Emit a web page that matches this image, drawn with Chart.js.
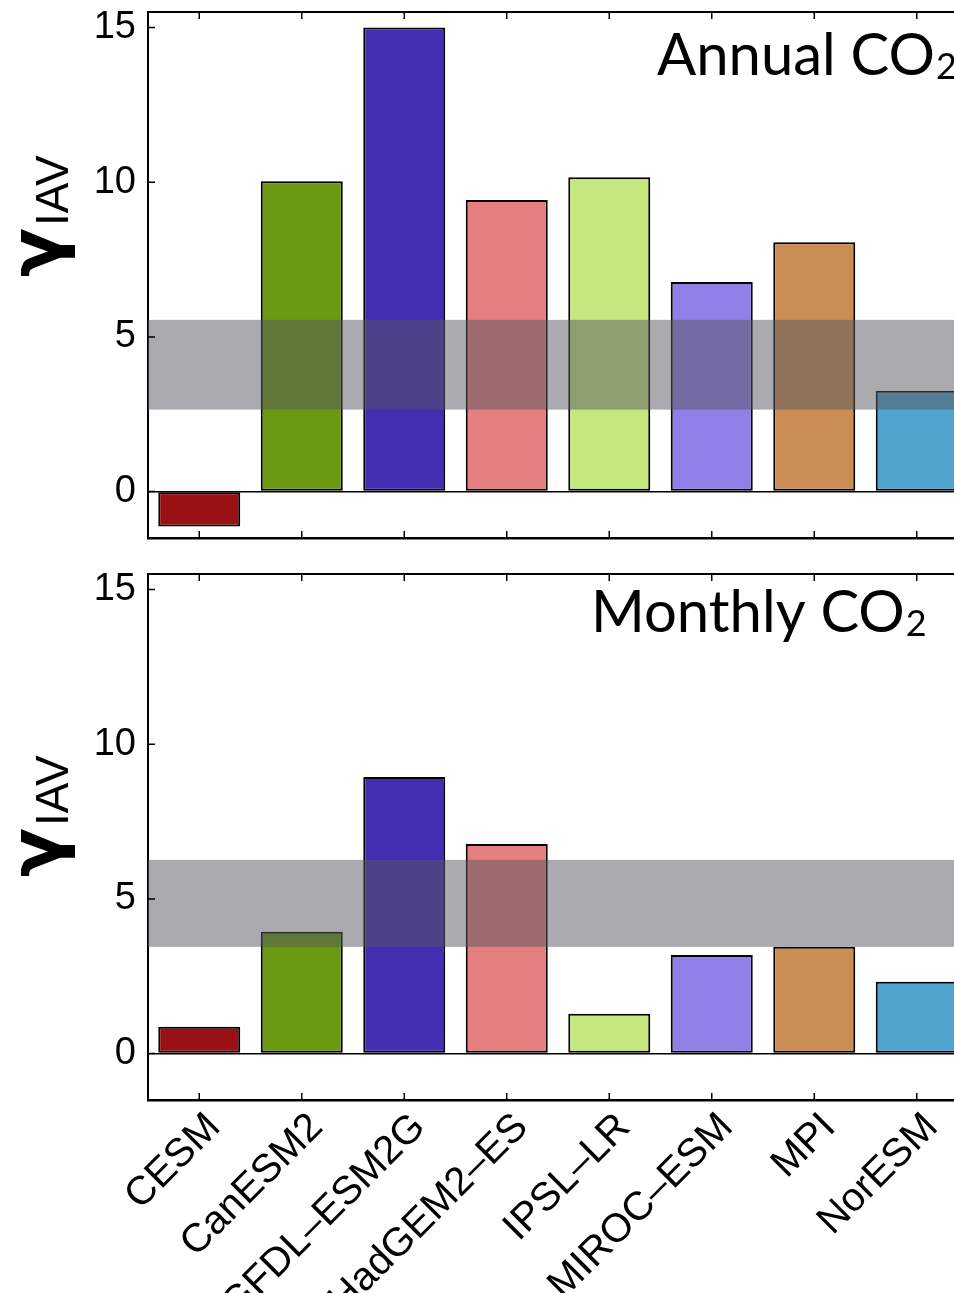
<!DOCTYPE html>
<html>
<head>
<meta charset="utf-8">
<script src="https://cdn.jsdelivr.net/npm/chart.js@4.4.0/dist/chart.umd.min.js"></script>
<style>
  body { margin: 0; background: #fff; overflow: hidden; width: 954px; height: 1293px; }
  canvas { position: absolute; left: 0; }
  #top { top: 0; }
  #bottom { top: 562px; }
</style>
</head>
<body>
<canvas id="top" width="1000" height="560"></canvas>
<canvas id="bottom" width="1000" height="731"></canvas>
<script>
// models along the x axis
var models = ['CESM', 'CanESM2', 'GFDL\u2013ESM2G', 'HadGEM2\u2013ES', 'IPSL\u2013LR', 'MIROC\u2013ESM', 'MPI', 'NorESM'];
var modelColors = ['#991015', '#6b9a12', '#432eb2', '#e57e7e', '#c4e77e', '#907fe6', '#ca8e54', '#50a3cc'];

// gamma IAV values
var annualValues = [-1.13, 10.03, 15.0, 9.42, 10.16, 6.77, 8.06, 3.26];
var monthlyValues = [0.87, 3.94, 8.94, 6.77, 1.29, 3.19, 3.45, 2.32];

// observed range (grey band): [low, high]
var annualBand = [2.65, 5.55];
var monthlyBand = [3.45, 6.26];

var yTicks = [0, 5, 10, 15];
var yMin = -1.5, yMax = 15.5;

function makeChart(id, values, band, title, opts) {
  var ctx = document.getElementById(id);

  var decor = {
    id: 'decor',
    afterDatasetsDraw: function(chart) {
      var c = chart.ctx, a = chart.chartArea, y = chart.scales.y;
      // grey band on top of the bars
      c.save();
      c.fillStyle = 'rgba(85,86,95,0.5)';
      var yHi = y.getPixelForValue(band[1]), yLo = y.getPixelForValue(band[0]);
      c.fillRect(a.left, yHi, a.right - a.left, yLo - yHi);
      c.restore();
    },
    afterDraw: function(chart) {
      var c = chart.ctx, a = chart.chartArea, x = chart.scales.x, y = chart.scales.y;
      c.save();
      c.strokeStyle = '#000';
      c.lineWidth = 2;
      // frame top and right
      c.beginPath();
      c.moveTo(a.left, a.top); c.lineTo(a.right, a.top); c.lineTo(a.right, a.bottom);
      c.stroke();
      // inner ticks
      c.lineWidth = 1.5;
      c.beginPath();
      for (var i = 0; i < models.length; i++) {
        var px = x.getPixelForValue(i);
        c.moveTo(px, a.top); c.lineTo(px, a.top + 7);
        c.moveTo(px, a.bottom); c.lineTo(px, a.bottom - 7);
      }
      yTicks.forEach(function(v) {
        var py = y.getPixelForValue(v);
        c.moveTo(a.left, py); c.lineTo(a.left + 7, py);
      });
      c.stroke();

      // panel title with subscript 2
      c.fillStyle = '#000';
      c.textBaseline = 'alphabetic';
      c.textAlign = 'left';
      c.font = '58px Lato';
      c.fillText(title, opts.titleX, opts.titleY);
      var w = c.measureText(title).width;
      c.font = '36px Lato';
      c.fillText('2', opts.titleX + w + 1, opts.titleY + 4);

      // y axis label: gamma with subscript IAV, rotated
      c.translate(0, opts.labelY);
      c.rotate(-Math.PI / 2);
      c.font = 'bold 72px "DejaVu Sans"';
      c.fillText('\u03b3', 0, 60);
      var gw = c.measureText('\u03b3').width;
      c.font = '46px "Liberation Sans"';
      c.fillText('IAV', gw + 2, 68);
      c.restore();
    }
  };

  return new Chart(ctx, {
    type: 'bar',
    data: {
      labels: models,
      datasets: [{
        data: values,
        backgroundColor: modelColors,
        borderColor: '#000',
        borderWidth: 2,
        borderSkipped: false,
        barPercentage: 1,
        categoryPercentage: 0.8
      }]
    },
    options: {
      responsive: false,
      animation: false,
      layout: { padding: { left: 0, top: 12, right: 32, bottom: 0 } },
      plugins: { legend: { display: false }, tooltip: { enabled: false } },
      scales: {
        x: {
          grid: { display: false },
          border: { display: true, color: '#000', width: 2.5 },
          ticks: {
            display: opts.showLabels,
            autoSkip: false,
            minRotation: 45,
            maxRotation: 45,
            padding: -4,
            labelOffset: 15,
            color: '#000',
            font: { family: 'Liberation Sans', size: 40 }
          },
          afterFit: function(s) { s.height = opts.xHeight; s.paddingLeft = 0; s.paddingRight = 0; }
        },
        y: {
          min: yMin,
          max: yMax,
          afterBuildTicks: function(s) { s.ticks = yTicks.map(function(v) { return { value: v }; }); },
          grid: {
            drawTicks: false,
            color: function(c) { return c.tick && c.tick.value === 0 ? '#000' : 'rgba(0,0,0,0)'; },
            lineWidth: 1.5
          },
          border: { display: true, color: '#000', width: 2 },
          ticks: {
            padding: 12,
            color: '#000',
            font: { family: 'Liberation Sans', size: 38 }
          },
          afterFit: function(s) { s.width = 148; s.paddingTop = 0; s.paddingBottom = 0; }
        }
      }
    },
    plugins: [decor]
  });
}

makeChart('top', annualValues, annualBand, 'Annual CO', { showLabels: false, xHeight: 22, titleX: 657, titleY: 75, labelY: 277 });
makeChart('bottom', monthlyValues, monthlyBand, 'Monthly CO', { showLabels: true, xHeight: 193, titleX: 591, titleY: 70, labelY: 315 });
</script>
</body>
</html>
